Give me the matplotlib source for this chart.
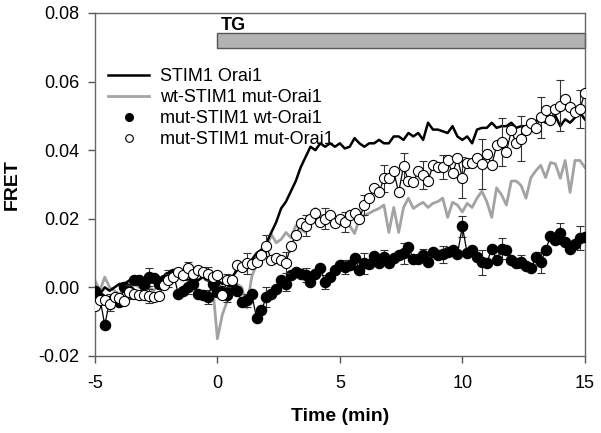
import numpy as np
import matplotlib
matplotlib.use("Agg")
import matplotlib.pyplot as plt
from matplotlib.lines import Line2D
from matplotlib.patches import Rectangle
from matplotlib.ticker import FormatStrFormatter

plt.rcParams['font.family'] = ['Liberation Sans', 'DejaVu Sans']
plt.rcParams['axes.unicode_minus'] = False

# time grid (min), sampling every 0.2 min
t_start, t_step = -5.0, 0.2

stim1_orai1 = [
    -0.001, -0.002, 0.000, -0.001, 0.000, 0.001, 0.001, 0.002, 0.001, 0.002,
    0.002, 0.001, 0.002, 0.003, 0.002, 0.003, 0.002, 0.003, 0.003, 0.002,
    0.003, 0.002, 0.003, 0.002, 0.002, 0.002, 0.001, 0.002, 0.003, 0.005,
    0.006, 0.007, 0.008, 0.010, 0.011, 0.013, 0.016, 0.019, 0.023, 0.025,
    0.028, 0.031, 0.035, 0.038, 0.041, 0.040, 0.042, 0.041, 0.042, 0.041,
    0.042, 0.0405, 0.041, 0.0435, 0.042, 0.041, 0.042, 0.042, 0.043, 0.042,
    0.042, 0.044, 0.044, 0.043, 0.045, 0.044, 0.045, 0.043, 0.048, 0.046,
    0.046, 0.0455, 0.045, 0.047, 0.044, 0.043, 0.044, 0.042, 0.046, 0.0465,
    0.0465, 0.048, 0.0465, 0.047, 0.047, 0.048, 0.0465, 0.047, 0.047, 0.048,
    0.0485, 0.049, 0.048, 0.049, 0.050, 0.047, 0.049, 0.048, 0.0495, 0.051,
    0.049,
]

wt_stim1_mut_orai1 = [
    0.002, -0.001, 0.003, 0.000, -0.001, -0.002, -0.001, 0.000, 0.001, 0.000,
    0.001, 0.000, -0.001, 0.001, 0.002, 0.003, 0.002, 0.003, 0.002, 0.004,
    0.003, 0.002, 0.003, 0.002, 0.001, -0.015, -0.008, -0.004, -0.002, 0.001,
    0.000, -0.006, 0.003, 0.007, 0.009, 0.011, 0.0155, 0.013, 0.014, 0.016,
    0.0145, 0.018, 0.017, 0.016, 0.0195, 0.023, 0.021, 0.021, 0.022, 0.020,
    0.019, 0.020, 0.018, 0.0157, 0.020, 0.021, 0.0216, 0.0224, 0.023, 0.024,
    0.016, 0.0233, 0.016, 0.0233, 0.026, 0.023, 0.024, 0.0248, 0.0233, 0.0245,
    0.025, 0.026, 0.0204, 0.0248, 0.024, 0.022, 0.0245, 0.0233, 0.026, 0.028,
    0.025, 0.0204, 0.029, 0.027, 0.024, 0.031, 0.031, 0.0297, 0.026, 0.032,
    0.034, 0.0356, 0.032, 0.0364, 0.036, 0.0318, 0.037, 0.0277, 0.037, 0.037,
    0.035,
]

mut_stim1_wt_orai1 = [
    -0.001, -0.003, -0.011, -0.004, -0.003, -0.0044, 0.000, -0.001, 0.002, 0.002,
    0.0006, 0.003, 0.0026, 0.001, 0.002, 0.003, 0.004, -0.0018, -0.001, 0.000,
    0.001, -0.0018, -0.0023, -0.0028, 0.001, -0.0014, -0.001, -0.0023, 0.000, -0.001,
    -0.0043, -0.0038, -0.002, -0.009, -0.0067, -0.0028, -0.0018, -0.0004, 0.002, 0.001,
    0.0035, 0.0044, 0.004, 0.0035, 0.0015, 0.004, 0.0055, 0.0015, 0.003, 0.005,
    0.0064, 0.006, 0.0064, 0.0087, 0.005, 0.007, 0.0068, 0.009, 0.007, 0.0088,
    0.007, 0.0085, 0.0093, 0.0099, 0.0117, 0.0084, 0.0084, 0.0093, 0.0073, 0.0102,
    0.0093, 0.0096, 0.0102, 0.0108, 0.0096, 0.0178, 0.0099, 0.0108, 0.0088, 0.0073,
    0.007, 0.0113, 0.0079, 0.0113, 0.011, 0.0079, 0.007, 0.0075, 0.0062, 0.0055,
    0.0088, 0.0073, 0.0108, 0.0149, 0.0137, 0.0157, 0.0131, 0.0113, 0.0125, 0.0143,
    0.0146,
]

mut_stim1_mut_orai1 = [
    -0.0053, -0.0038, -0.0038, -0.005, -0.0028, -0.003, -0.004, -0.0014, -0.002, -0.0023,
    -0.0023, -0.0025, -0.0028, -0.0025, 0.0006, 0.002, 0.003, 0.0044, 0.0035, 0.0055,
    0.004, 0.005, 0.0045, 0.004, 0.003, 0.0035, -0.0023, 0.002, 0.002, 0.0064,
    0.006, 0.007, 0.0068, 0.0073, 0.0093, 0.0122, 0.0079, 0.0085, 0.008, 0.0072,
    0.0122, 0.0152, 0.0187, 0.018, 0.020, 0.0216, 0.019, 0.020, 0.021, 0.0187,
    0.020, 0.019, 0.021, 0.0216, 0.020, 0.024, 0.026, 0.029, 0.0277, 0.0318,
    0.032, 0.0338, 0.0277, 0.0353, 0.031, 0.0306, 0.034, 0.0327, 0.031, 0.0356,
    0.035, 0.035, 0.037, 0.0332, 0.0376, 0.032, 0.0364, 0.0364, 0.0376, 0.036,
    0.039, 0.0356, 0.0414, 0.0423, 0.0394, 0.0458, 0.042, 0.0434, 0.0458, 0.048,
    0.0466, 0.0496, 0.0516, 0.0487, 0.052, 0.053, 0.0548, 0.0525, 0.051, 0.052,
    0.0566,
]

# error bars shown every 4th sample (t = -4.4, -3.6, ..., 14.8)
err_wt_orai1 = [0.002, 0.002, 0.0025, 0.002, 0.002, 0.002, 0.002, 0.002, 0.003,
                0.002, 0.002, 0.002, 0.002, 0.003, 0.002, 0.003, 0.002, 0.0025,
                0.003, 0.0036, 0.003, 0.002, 0.003, 0.003, 0.0035]
err_mut_orai1 = [0.002, 0.002, 0.002, 0.002, 0.002, 0.002, 0.002, 0.003, 0.003,
                 0.003, 0.003, 0.003, 0.003, 0.003, 0.004, 0.004, 0.004, 0.0035,
                 0.006, 0.0073, 0.007, 0.0067, 0.006, 0.0075, 0.0054]

labels = ["STIM1 Orai1", "wt-STIM1 mut-Orai1", "mut-STIM1 wt-Orai1", "mut-STIM1 mut-Orai1"]
xticks = [-5, 0, 5, 10, 15]
yticks = [-0.02, 0.00, 0.02, 0.04, 0.06, 0.08]

n = len(stim1_orai1)
t = t_start + t_step * np.arange(n)
err_idx = np.arange(3, n, 4)

def full_err(vals):
    e = np.zeros(n)
    e[err_idx[:len(vals)]] = vals
    return e

fig = plt.figure(figsize=(6.01, 4.33), dpi=100)
ax = fig.add_axes([0.158, 0.178, 0.815, 0.792])

ax.plot(t, wt_stim1_mut_orai1, color='#a3a3a3', lw=2.0, zorder=2)
ax.plot(t, stim1_orai1, color='black', lw=1.8, zorder=3)
ax.errorbar(t, mut_stim1_wt_orai1, yerr=full_err(err_wt_orai1), errorevery=(3, 4),
            fmt='o', color='black', mfc='black', mec='black', ms=7.3, lw=0.9,
            ecolor='#333333', elinewidth=0.8, capsize=3, capthick=0.8, zorder=4)
ax.plot(t, mut_stim1_wt_orai1, color='black', lw=0.9, zorder=4)
ax.errorbar(t, mut_stim1_mut_orai1, yerr=full_err(err_mut_orai1), errorevery=(3, 4),
            fmt='o', color='black', mfc='white', mec='black', ms=7.3, mew=0.8,
            ecolor='#333333', elinewidth=0.8, capsize=3, capthick=0.8, zorder=5)
ax.plot(t, mut_stim1_mut_orai1, color='black', lw=0.9, zorder=4.5)

# TG bar
ax.add_patch(Rectangle((0, 0.0698), 15, 0.0044, facecolor='#b3b3b3',
                       edgecolor='#555555', lw=1.0, zorder=1, clip_on=False))
ax.text(0.15, 0.0739, "TG", fontsize=13, fontweight='bold', ha='left', va='bottom')

ax.set_xlim(-5, 15)
ax.set_ylim(-0.02, 0.08)
ax.set_xticks(xticks)
ax.set_yticks(yticks)
ax.yaxis.set_major_formatter(FormatStrFormatter('%.2f'))
ax.tick_params(direction='out', length=5, width=1, color='#555555', labelsize=13, pad=6)
ax.tick_params(axis='x', pad=9)
for s in ax.spines.values():
    s.set_color('#666666')
    s.set_linewidth(1.0)

ax.set_xlabel("Time (min)", fontsize=14, fontweight='bold', labelpad=11)
ax.set_ylabel("FRET", fontsize=14, fontweight='bold', labelpad=13)

handles = [
    Line2D([], [], color='black', lw=1.8),
    Line2D([], [], color='#a3a3a3', lw=2.0),
    Line2D([], [], ls='none', marker='o', mfc='black', mec='black', ms=5.5),
    Line2D([], [], ls='none', marker='o', mfc='white', mec='black', ms=5.5, mew=0.8),
]
ax.legend(handles, labels, loc='upper left', bbox_to_anchor=(0.008, 0.866), frameon=False,
          fontsize=13, handlelength=2.3, handletextpad=0.6, labelspacing=0.22,
          borderaxespad=0.3, borderpad=0.2)

fig.savefig("out.png", dpi=100)
